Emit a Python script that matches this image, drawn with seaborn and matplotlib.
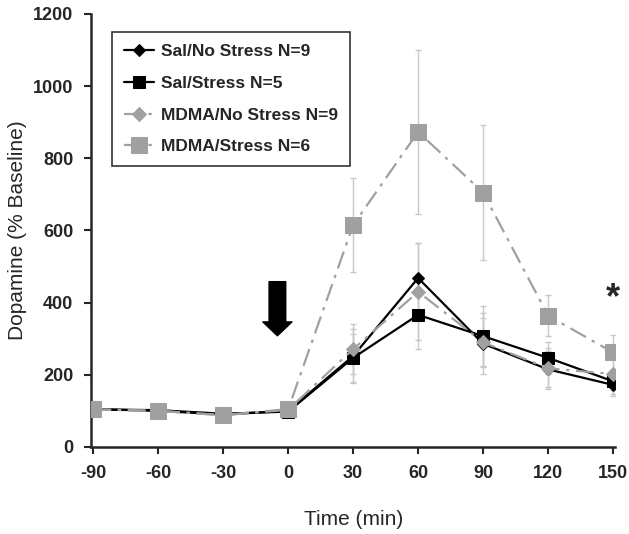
import numpy as np
import pandas as pd
import seaborn as sns
import matplotlib.pyplot as plt

time = [-90, -60, -30, 0, 30, 60, 90, 120, 150]

groups = [
    "Sal/No Stress N=9",
    "Sal/Stress N=5",
    "MDMA/No Stress N=9",
    "MDMA/Stress N=6"
]

sal_no_stress = [105, 100, 90, 100, 252, 468, 286, 215, 172]
sal_stress = [104, 102, 92, 98, 247, 366, 307, 247, 182]
mdma_no_stress = [104, 100, 88, 103, 271, 430, 290, 218, 202]
mdma_stress = [104, 100, 88, 105, 615, 873, 705, 364, 262]

sal_no_stress_err = [8, 8, 8, 8, 75, 97, 85, 50, 30]
sal_stress_err = [8, 8, 8, 8, 67, 95, 83, 45, 35]
mdma_no_stress_err = [8, 8, 8, 8, 70, 135, 68, 57, 45]
mdma_stress_err = [10, 10, 10, 12, 130, 228, 187, 57, 48]

values = [sal_no_stress, sal_stress, mdma_no_stress, mdma_stress]
errors = [sal_no_stress_err, sal_stress_err, mdma_no_stress_err, mdma_stress_err]

df = pd.DataFrame({
    "Time": time * 4,
    "Dopamine": sum(values, []),
    "Group": np.repeat(groups, len(time))
})

sns.set_style("ticks")
plt.rcParams["font.family"] = ["Liberation Sans", "DejaVu Sans"]
plt.rcParams["axes.unicode_minus"] = False

fig = plt.figure(figsize=(6.29, 5.34), dpi=100)
ax = fig.add_axes([0.145, 0.163, 0.833, 0.811])

# error bars first so they sit behind the markers
for v, e in zip(values, errors):
    ax.errorbar(
        time, v, yerr=e,
        fmt="none", ecolor="#c8c8c8",
        elinewidth=1, capsize=2, capthick=1,
        zorder=1
    )

colors = ["black", "black", "#a0a0a0", "#a0a0a0"]
markers = ["D", "s", "D", "s"]
sizes = [6, 8, 7, 11]
styles = ["-", "-", (0, (8, 3, 1.5, 3)), (0, (8, 3, 1.5, 3))]

for g, c, m, s, ls in zip(groups, colors, markers, sizes, styles):
    sns.lineplot(
        data=df[df["Group"] == g],
        x="Time",
        y="Dopamine",
        color=c,
        marker=m,
        markersize=s,
        markeredgecolor=c,
        linestyle=ls,
        linewidth=1.6,
        label=g,
        ax=ax,
        zorder=3
    )

ax.set_xlim(-91, 151)
ax.set_ylim(0, 1200)
ax.set_xticks(time)
ax.set_yticks(range(0, 1201, 200))
ax.tick_params(direction="out", length=5, width=1.5, labelsize=13, pad=8)
for lab in ax.get_xticklabels() + ax.get_yticklabels():
    lab.set_fontweight("bold")

ax.spines["top"].set_visible(False)
ax.spines["right"].set_visible(False)
ax.spines["left"].set_linewidth(1.8)
ax.spines["bottom"].set_linewidth(1.8)

ax.set_xlabel("Time (min)", fontsize=15, labelpad=20)
ax.set_ylabel("Dopamine (% Baseline)", fontsize=15, labelpad=4)

# injection arrow
ax.annotate(
    "", xy=(-5, 308), xytext=(-5, 458),
    arrowprops=dict(facecolor="black", edgecolor="black",
                    width=12, headwidth=21, headlength=10)
)

ax.text(150, 410, "*", fontsize=26, fontweight="bold",
        ha="center", va="center")

leg = ax.legend(
    loc="upper left",
    bbox_to_anchor=(0.04, 0.958),
    borderaxespad=0,
    fontsize=12.5,
    frameon=True,
    fancybox=False,
    edgecolor="black",
    labelspacing=0.95,
    handlelength=1.7,
    handletextpad=0.4,
    borderpad=0.7
)
leg.get_frame().set_linewidth(1.2)
for t in leg.get_texts():
    t.set_fontweight("bold")

plt.savefig("out.png", dpi=100)
